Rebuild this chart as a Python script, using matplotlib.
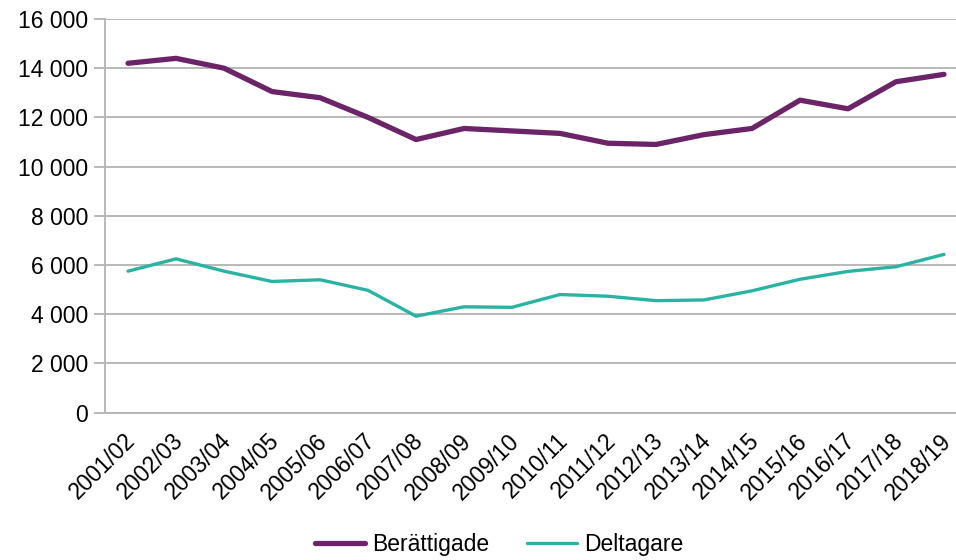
import matplotlib
matplotlib.use("Agg")
import matplotlib.pyplot as plt
import matplotlib.transforms as mtransforms
from matplotlib.ticker import FuncFormatter, MultipleLocator

plt.rcParams['font.family'] = ['Liberation Sans', 'DejaVu Sans']

years = ["2001/02", "2002/03", "2003/04", "2004/05", "2005/06", "2006/07",
         "2007/08", "2008/09", "2009/10", "2010/11", "2011/12", "2012/13",
         "2013/14", "2014/15", "2015/16", "2016/17", "2017/18", "2018/19"]
berattigade = [14200, 14400, 14000, 13050, 12800, 12000, 11100, 11550, 11450,
               11350, 10950, 10900, 11300, 11550, 12700, 12350, 13450, 13750]
deltagare = [5750, 6250, 5750, 5330, 5400, 4970, 3920, 4300, 4280,
             4800, 4730, 4550, 4580, 4950, 5420, 5740, 5930, 6430]

W, H = 956, 560
fig = plt.figure(figsize=(W / 100, H / 100), dpi=100)
left, right, top, bottom = 105, 956, 19, 412.6
ax = fig.add_axes([left / W, 1 - bottom / H, (right - left) / W, (bottom - top) / H])

x = list(range(len(years)))
ax.plot(x, berattigade, color="#6B2468", lw=3.8, solid_capstyle="round",
        solid_joinstyle="round", label="Berättigade", zorder=3)
ax.plot(x, deltagare, color="#2AB3A3", lw=2.4, solid_capstyle="round",
        solid_joinstyle="round", label="Deltagare", zorder=3)

ax.set_ylim(0, 16000)
ax.set_xlim(-0.48, 17.25)
ax.yaxis.set_major_locator(MultipleLocator(2000))
ax.yaxis.set_major_formatter(FuncFormatter(lambda v, p: f"{int(v):,}".replace(",", " ")))
ax.grid(axis="y", color="#B3B3B3", lw=1.3)
ax.set_axisbelow(True)

for s in ["top", "right"]:
    ax.spines[s].set_visible(False)
for s in ["left", "bottom"]:
    ax.spines[s].set_color("#B3B3B3")
    ax.spines[s].set_linewidth(1.3)

fs = 16.5
ax.tick_params(axis="y", length=8, width=1.3, color="#B3B3B3", labelsize=fs, pad=4)
ax.tick_params(axis="x", length=0, labelsize=fs, pad=12)
ax.set_xticks(x)
ax.set_xticklabels(years, rotation=45, ha="right", rotation_mode="anchor")
offset = mtransforms.ScaledTranslation(-4 / 100, 0, fig.dpi_scale_trans)
for lab in ax.get_xticklabels():
    lab.set_transform(lab.get_transform() + offset)

leg = fig.legend(loc="center", bbox_to_anchor=(499 / W, 1 - 545 / H), ncol=2, frameon=False,
                 fontsize=fs, handlelength=2.2, handletextpad=0.3, columnspacing=1.65,
                 borderaxespad=0, borderpad=0)

fig.savefig("out.png", dpi=100)
